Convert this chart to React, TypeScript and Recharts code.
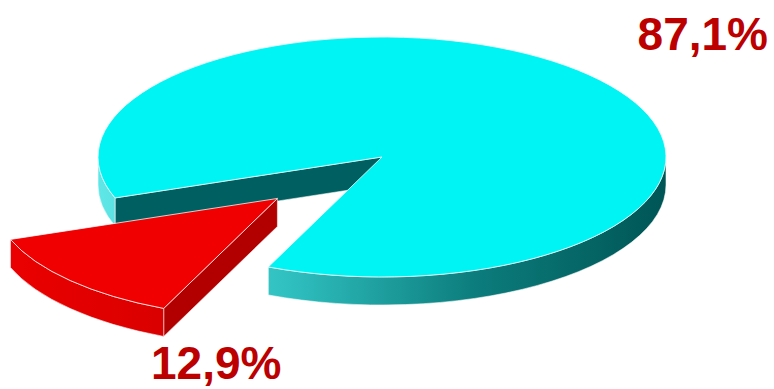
import React from 'react';
import { PieChart, Pie, Cell } from 'recharts';

const sliceNames = ['Majority', 'Minority'];
const sliceValues = [87.1, 12.9];

const TOP_COLORS = ['#00F4F4', '#F00000'];
const CUT_COLORS = ['#005F60', '#B20000'];
const WALL_STOPS = [
  ['#5FE6E6', '#30C0C0', '#0C7C7C', '#005555'],
  ['#EC0000', '#D80000', '#C00000', '#A80000'],
];
const EXPLODE = [0, 0.505];
const LABEL_POS = [
  { x: 768, y: 50, anchor: 'end' },
  { x: 151, y: 379, anchor: 'start' },
];

const CX = 382;
const CY = 157;
const RX = 284;
const TILT = 0.4225;
const DEPTH = 28;
const START = 246.4;

const chartData = sliceNames.map((name, i) => ({ name, value: sliceValues[i] }));

const pt = (cx: number, cy: number, rx: number, ry: number, deg: number) => {
  const r = (deg * Math.PI) / 180;
  return [cx + rx * Math.cos(r), cy - ry * Math.sin(r)];
};

const renderSlice = (props: any) => {
  const { cx, cy, outerRadius, startAngle, endAngle, index, value } = props;
  const a0 = Math.min(startAngle, endAngle);
  const a1 = Math.max(startAngle, endAngle);
  const rx = outerRadius;
  const ry = outerRadius * TILT;
  const mid = (a0 + a1) / 2;
  const k = EXPLODE[index] || 0;
  const m = pt(0, 0, rx * k, ry * k, mid);
  const x0 = cx + m[0];
  const y0 = cy + m[1];

  const p0 = pt(x0, y0, rx, ry, a0);
  const p1 = pt(x0, y0, rx, ry, a1);
  const large = a1 - a0 > 180 ? 1 : 0;
  const top = `M${x0},${y0} L${p0[0]},${p0[1]} A${rx},${ry} 0 ${large} 0 ${p1[0]},${p1[1]} Z`;

  // outer wall, only the front half (180..360) shows
  const walls: string[] = [];
  for (let j = -1; j <= 2; j++) {
    const s = Math.max(a0, 180 + 360 * j);
    const e = Math.min(a1, 360 + 360 * j);
    if (e > s) {
      const ps = pt(x0, y0, rx, ry, s);
      const pe = pt(x0, y0, rx, ry, e);
      walls.push(
        `M${ps[0]},${ps[1]} A${rx},${ry} 0 0 0 ${pe[0]},${pe[1]} L${pe[0]},${pe[1] + DEPTH} A${rx},${ry} 0 0 1 ${ps[0]},${ps[1] + DEPTH} Z`
      );
    }
  }

  const cuts: string[] = [];
  const cutAt = (a: number) => {
    const p = pt(x0, y0, rx, ry, a);
    cuts.push(`M${x0},${y0} L${p[0]},${p[1]} L${p[0]},${p[1] + DEPTH} L${x0},${y0 + DEPTH} Z`);
  };
  if (Math.cos((a0 * Math.PI) / 180) > 0) cutAt(a0);
  if (Math.cos((a1 * Math.PI) / 180) < 0) cutAt(a1);

  const gid = `wall-grad-${index}`;
  const stops = WALL_STOPS[index];
  const lp = LABEL_POS[index];
  const text = `${Number(value).toFixed(1).replace('.', ',')}%`;

  return (
    <g key={`slice-${index}`}>
      <defs>
        <linearGradient id={gid} gradientUnits="userSpaceOnUse" x1={x0 - rx} y1={0} x2={x0 + rx} y2={0}>
          {stops.map((c, i) => (
            <stop key={i} offset={i / (stops.length - 1)} stopColor={c} />
          ))}
        </linearGradient>
      </defs>
      {cuts.map((d, i) => (
        <path key={`c${i}`} d={d} fill={CUT_COLORS[index]} stroke="rgba(255,255,255,0.55)" strokeWidth={1} />
      ))}
      {walls.map((d, i) => (
        <path key={`w${i}`} d={d} fill={`url(#${gid})`} stroke="rgba(255,255,255,0.55)" strokeWidth={1} />
      ))}
      <path d={top} fill={TOP_COLORS[index]} stroke="rgba(255,255,255,0.75)" strokeWidth={1} />
      <text
        x={lp.x}
        y={lp.y}
        textAnchor={lp.anchor}
        fill="#BC0000"
        fontFamily="'Liberation Sans', Arial, sans-serif"
        fontWeight="bold"
        fontSize={46}
      >
        {text}
      </text>
    </g>
  );
};

export default function App() {
  return (
    <div style={{ position: 'absolute', left: 0, top: 0, width: 774, height: 389, background: '#fff' }}>
      <PieChart width={774} height={389} margin={{ top: 0, right: 0, bottom: 0, left: 0 }}>
        <Pie
          data={chartData}
          dataKey="value"
          nameKey="name"
          cx={CX}
          cy={CY}
          outerRadius={RX}
          innerRadius={0}
          startAngle={START}
          endAngle={START + 360}
          stroke="none"
          label={renderSlice}
          labelLine={false}
          isAnimationActive={false}
        >
          {chartData.map((entry, i) => (
            <Cell key={`cell-${i}`} fill="transparent" />
          ))}
        </Pie>
      </PieChart>
    </div>
  );
}
